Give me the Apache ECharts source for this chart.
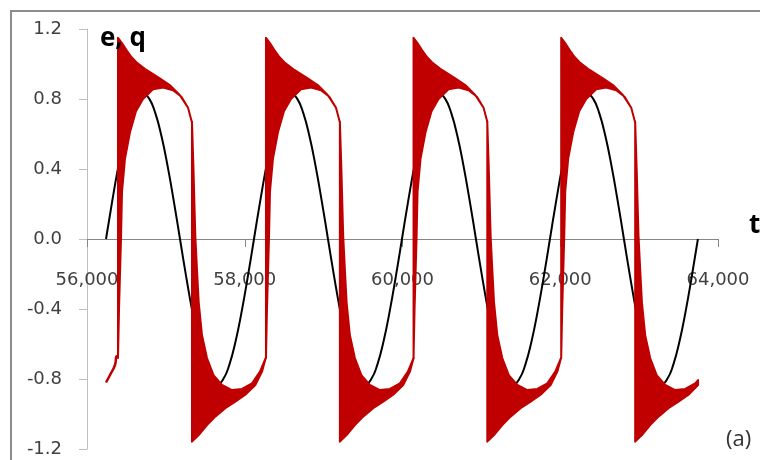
<!DOCTYPE html>
<html>
<head>
<meta charset="utf-8">
<script src="https://cdn.jsdelivr.net/npm/echarts@6/dist/echarts.min.js"></script>
<style>
  html, body { margin: 0; padding: 0; background: #fff; }
  #chart { width: 760px; height: 460px; }
</style>
</head>
<body>
<div id="chart"></div>
<script>
// Axis ranges
const tMin = 56000, tMax = 64000, tInterval = 2000;
const qMin = -1.2, qMax = 1.2, qInterval = 0.4;

// e(t): driving signal, sampled every 1/24 of its period
const eStart = 56241;
const eStep = 78.17;
const eValues = [
  0, 0.215, 0.415, 0.587, 0.719, 0.802, 0.83, 0.802, 0.719, 0.587, 0.415, 0.215,
  0, -0.215, -0.415, -0.587, -0.719, -0.802, -0.834, -0.802, -0.719, -0.587, -0.415, -0.215,
  0, 0.215, 0.415, 0.587, 0.719, 0.802, 0.83, 0.802, 0.719, 0.587, 0.415, 0.215,
  0, -0.215, -0.415, -0.587, -0.719, -0.802, -0.834, -0.802, -0.719, -0.587, -0.415, -0.215,
  0, 0.215, 0.415, 0.587, 0.719, 0.802, 0.83, 0.802, 0.719, 0.587, 0.415, 0.215,
  0, -0.215, -0.415, -0.587, -0.719, -0.802, -0.834, -0.802, -0.719, -0.587, -0.415, -0.215,
  0, 0.215, 0.415, 0.587, 0.719, 0.802, 0.83, 0.802, 0.719, 0.587, 0.415, 0.215,
  0, -0.215, -0.415, -0.587, -0.719, -0.802, -0.834, -0.802, -0.719, -0.587, -0.415, -0.215,
  0
];

// q(t): slow lead-in before the first flip
const qLeadT = [56241, 56292, 56355, 56376, 56393];
const qLeadV = [-0.82, -0.777, -0.72, -0.67, -0.67];

// q(t): flip times and direction (+1 up, -1 down)
const qFlipT = [56393, 57331, 58269, 59206, 60140, 61075, 62012, 62950];
const qFlipDir = [1, -1, 1, -1, 1, -1, 1, -1];

// Envelope of the fast ringing after a flip: [time since flip, q]
const qUpOuter = [[0, 1.15], [50, 1.12], [107, 1.08], [170, 1.04], [233, 1.01], [360, 0.966], [529, 0.918], [656, 0.88], [782, 0.823], [888, 0.75], [935, 0.67]];
const qUpInner = [[0, -0.68], [13, -0.40], [38, 0.0], [51, 0.27], [89, 0.46], [152, 0.61], [228, 0.73], [317, 0.80], [444, 0.855], [571, 0.865], [697, 0.85], [804, 0.813], [888, 0.75], [935, 0.67]];
const qDownOuter = [[0, -1.158], [85, -1.12], [190, -1.063], [295, -1.015], [422, -0.967], [549, -0.93], [676, -0.89], [803, -0.834], [888, -0.758], [935, -0.68]];
const qDownInner = [[0, 0.67], [19, 0.40], [42, 0.02], [63, -0.17], [85, -0.36], [127, -0.55], [190, -0.68], [275, -0.78], [380, -0.834], [507, -0.863], [634, -0.857], [761, -0.825], [862, -0.758], [935, -0.68]];

// Last recorded sample: [t, inner q, outer q]
const qEnd = [63747, -0.806, -0.834];

// Tick labels along the time axis
const tTickLabels = ['56,000', '58,000', '60,000', '62,000', '64,000'];

const RED = '#C00000';

function renderBand(params, api) {
  const i = params.dataIndex;
  const t0 = qFlipT[i];
  const up = qFlipDir[i] > 0;
  const span = qEnd[0] - t0;
  const full = up ? qUpOuter : qDownOuter;
  const outer = full.filter(p => p[0] <= span);
  const inner = (up ? qUpInner : qDownInner).filter(p => p[0] <= span);
  const cut = span < full[full.length - 1][0];
  const path = [];
  path.push([t0 + inner[0][0], inner[0][1]]);
  outer.forEach(p => path.push([t0 + p[0], p[1]]));
  if (cut) {
    path.push([qEnd[0], qEnd[2]]);
    path.push([qEnd[0], qEnd[1]]);
  }
  for (let k = inner.length - 1; k >= 1; k--) path.push([t0 + inner[k][0], inner[k][1]]);
  return {
    type: 'polygon',
    shape: { points: path.map(p => api.coord(p)) },
    style: { fill: RED, stroke: RED, lineWidth: 2, lineJoin: 'round' }
  };
}

const chart = echarts.init(document.getElementById('chart'), null, { renderer: 'canvas' });

const labelFont = { fontFamily: 'DejaVu Sans', fontSize: 18, color: '#404040' };

chart.setOption({
  animation: false,
  backgroundColor: '#ffffff',
  grid: { left: 87, right: 42, top: 29, bottom: 11, containLabel: false },
  xAxis: [
    {
      // line and ticks through q = 0
      type: 'value',
      min: tMin, max: tMax, interval: tInterval,
      axisLine: { show: true, onZero: true, lineStyle: { color: '#868686', width: 1 } },
      axisTick: { show: true, length: 8, lineStyle: { color: '#868686' } },
      axisLabel: { show: false },
      splitLine: { show: false }
    },
    {
      // tick labels, set just below the q = 0 line
      type: 'value',
      position: 'bottom',
      min: tMin, max: tMax, interval: tInterval,
      axisLine: { show: false, onZero: false },
      axisTick: { show: false },
      axisLabel: Object.assign({
        show: true, inside: true, margin: 160,
        formatter: (v, i) => tTickLabels[i] || ''
      }, labelFont),
      splitLine: { show: false }
    }
  ],
  yAxis: {
    type: 'value',
    min: qMin, max: qMax, interval: qInterval,
    axisLine: { show: true, lineStyle: { color: '#BFBFBF', width: 1 } },
    axisTick: { show: true, length: 8, lineStyle: { color: '#BFBFBF' } },
    axisLabel: Object.assign({ margin: 25, formatter: v => (Math.abs(v) < 1e-9 ? '0.0' : v.toFixed(1)) }, labelFont),
    splitLine: { show: false }
  },
  series: [
    {
      name: 'e',
      type: 'line',
      data: eValues.map((v, i) => [eStart + i * eStep, v]),
      showSymbol: false,
      smooth: true,
      lineStyle: { color: '#000000', width: 2 },
      z: 2
    },
    {
      name: 'q lead-in',
      type: 'line',
      data: qLeadT.map((t, i) => [t, qLeadV[i]]),
      showSymbol: false,
      smooth: true,
      lineStyle: { color: RED, width: 2.5 },
      z: 3
    },
    {
      name: 'q',
      type: 'custom',
      data: qFlipT.map((t, i) => [t, qFlipDir[i]]),
      encode: { x: 0, y: 1 },
      renderItem: renderBand,
      clip: true,
      z: 3
    }
  ],
  graphic: [
    {
      type: 'rect', z: -10, silent: true,
      shape: { x: 11, y: 11, width: 780, height: 480 },
      style: { fill: 'none', stroke: '#8C8C8C', lineWidth: 2 }
    },
    {
      type: 'text', left: 100, top: 26, z: 100,
      style: { text: 'e, q', fontFamily: 'Open Sans', fontWeight: 'bold', fontSize: 26, fill: '#000' }
    },
    {
      type: 'text', left: 749, top: 213, z: 100,
      style: { text: 't', fontFamily: 'Open Sans', fontWeight: 'bold', fontSize: 26, fill: '#000' }
    },
    {
      type: 'text', left: 726, top: 429, z: 100,
      style: { text: '(a)', fontFamily: 'Open Sans', fontSize: 22, fill: '#333' }
    }
  ]
});
</script>
</body>
</html>
